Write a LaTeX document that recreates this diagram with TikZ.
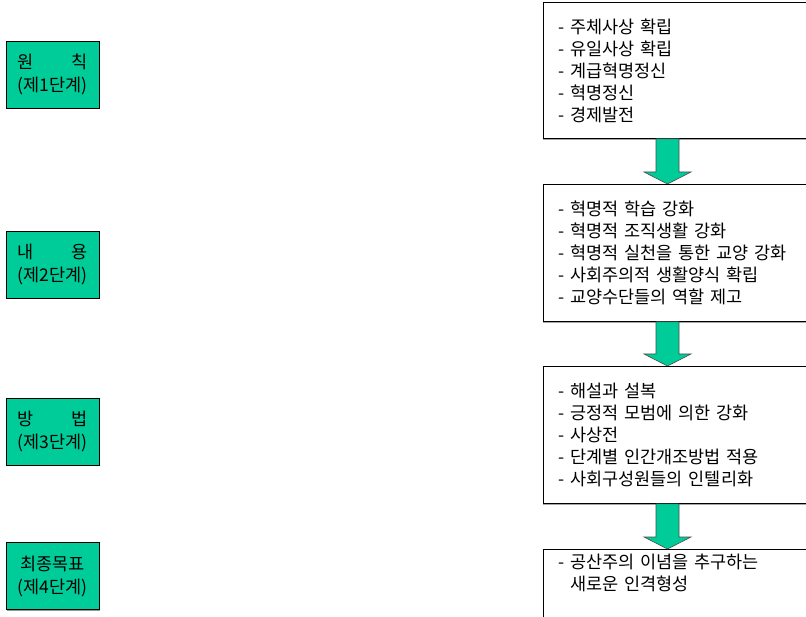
\documentclass[tikz,border=0pt]{standalone}
\usepackage{fontspec}
\setmainfont{Noto Sans CJK KR}
\usetikzlibrary{calc,shadows}
\definecolor{stepgreen}{HTML}{00CC99}
\begin{document}
\begin{tikzpicture}[x=1pt,y=-1pt,
  stage/.style={draw=black, line width=0.8pt, fill=stepgreen, minimum width=93pt, minimum height=67pt, inner sep=0pt, align=center, font=\fontsize{17.5}{23}\selectfont, drop shadow={shadow xshift=1pt,shadow yshift=-1pt,fill=black!40,opacity=1}},
  listbox/.style={draw=black, line width=0.8pt, fill=white, anchor=north west, minimum width=320pt, minimum height=137pt, text width=290pt, inner xsep=14pt, align=left, font=\fontsize{17.5}{22}\selectfont, drop shadow={shadow xshift=0pt,shadow yshift=-1.2pt,fill=black!35,opacity=1}},
  blockarrow/.style={draw=black!70, line width=0.6pt, fill=stepgreen}]
\clip (0,0) rectangle (806,617);
\fill[white] (0,0) rectangle (806,617);
% left stage boxes
\node[stage] (s1) at (52.5,74.5) {\raisebox{-2pt}{\hbox to 70pt{원\hfill 칙}}\\\raisebox{-2pt}{(제1단계)}};
\node[stage] (s2) at (52.5,264.5) {\raisebox{-2pt}{\hbox to 70pt{내\hfill 용}}\\\raisebox{-2pt}{(제2단계)}};
\node[stage] (s3) at (52.5,431.5) {\raisebox{-2pt}{\hbox to 70pt{방\hfill 법}}\\\raisebox{-2pt}{(제3단계)}};
\node[stage] (s4) at (52.5,576) {\raisebox{-2pt}{최종목표}\\\raisebox{-2pt}{(제4단계)}};
% right content boxes
\node[listbox, minimum height=136pt] (r1) at (543,2) {- 주체사상 확립\\- 유일사상 확립\\- 계급혁명정신\\- 혁명정신\\- 경제발전};
\node[listbox] (r2) at (543,184) {- 혁명적 학습 강화\\- 혁명적 조직생활 강화\\- 혁명적 실천을 통한 교양 강화\\- 사회주의적 생활양식 확립\\- 교양수단들의 역할 제고};
\node[listbox] (r3) at (543,366) {- 해설과 설복\\- 긍정적 모범에 의한 강화\\- 사상전\\- 단계별 인간개조방법 적용\\- 사회구성원들의 인텔리화};
\node[listbox, minimum height=0pt, inner ysep=4.5pt] (r4) at (543,549) {\parbox[t][110pt][t]{290pt}{- 공산주의 이념을 추구하는\\\phantom{- }새로운 인격형성}};
% block arrows
\foreach \a/\b in {r1/r2, r2/r3, r3/r4}{
  \draw[blockarrow] let \p1=(\a.south), \p2=(\b.north) in
    (656pt,\y1) -- (679pt,\y1) -- (679pt,\y2+12pt) -- (691pt,\y2+12pt)
    -- (667.5pt,\y2) -- (644pt,\y2+12pt) -- (656pt,\y2+12pt) -- cycle;
}
\end{tikzpicture}
\end{document}
